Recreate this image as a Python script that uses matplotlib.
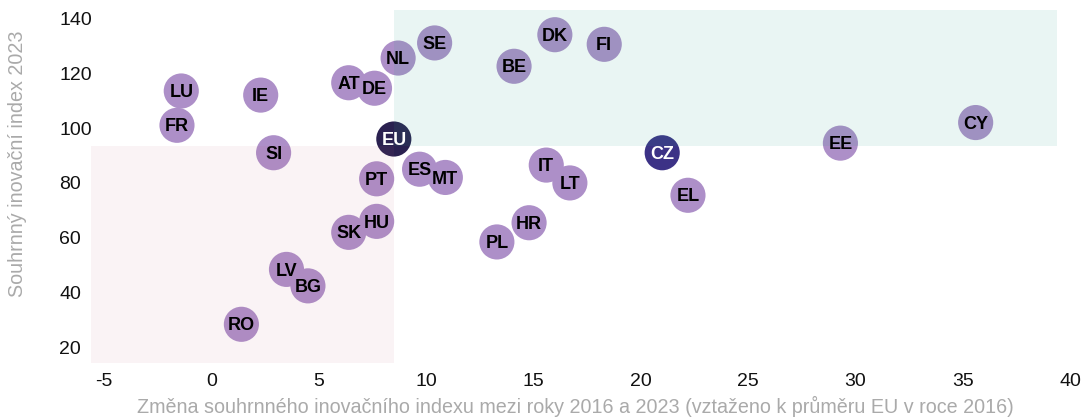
import matplotlib.pyplot as plt
from matplotlib.patches import Rectangle

plt.rcParams['font.family'] = ['Liberation Sans', 'DejaVu Sans']
plt.rcParams['axes.unicode_minus'] = False

countries = ["LU", "FR", "IE", "SI", "AT", "DE", "NL", "SE", "BE", "DK", "FI",
             "EU", "CZ", "EE", "CY", "ES", "MT", "IT", "LT", "EL", "PT", "HU",
             "SK", "HR", "PL", "LV", "BG", "RO"]
change = [-1.4, -1.6, 2.3, 2.9, 6.4, 7.6, 8.7, 10.4, 14.1, 16.0, 18.3,
          8.5, 21.0, 29.3, 35.6, 9.7, 10.9, 15.6, 16.7, 22.2, 7.7, 7.7,
          6.4, 14.8, 13.3, 3.5, 4.5, 1.4]
index_2023 = [113.5, 101.0, 112.0, 91.0, 116.5, 114.5, 125.5, 131.0, 122.5, 134.0, 130.5,
              96.0, 91.0, 94.5, 102.0, 85.0, 82.0, 86.5, 80.0, 75.5, 81.5, 66.0,
              62.0, 65.5, 58.5, 48.5, 42.5, 28.5]

# quadrant boxes (below / above EU)
low_box = (-5.6, 14.4, 8.5, 93.4)
high_box = (8.5, 93.4, 39.4, 143.0)

fig, ax = plt.subplots(figsize=(10.82, 4.17), dpi=100)
fig.subplots_adjust(left=0.0832, right=0.993, bottom=0.1295, top=0.976)

colors = []
text_colors = []
for c in countries:
    if c == "EU":
        colors.append("#2a2150")
        text_colors.append("white")
    elif c == "CZ":
        colors.append("#3c3286")
        text_colors.append("white")
    else:
        colors.append("#ad8fc8")
        text_colors.append("black")

ax.scatter(change, index_2023, s=640, c=colors, linewidths=0, zorder=2)

ax.add_patch(Rectangle((low_box[0], low_box[1]), low_box[2] - low_box[0],
                       low_box[3] - low_box[1], facecolor="#c0607f", alpha=0.07,
                       linewidth=0, zorder=3))
ax.add_patch(Rectangle((high_box[0], high_box[1]), high_box[2] - high_box[0],
                       high_box[3] - high_box[1], facecolor="#2aa58a", alpha=0.10,
                       linewidth=0, zorder=3))

for c, x, y, tc in zip(countries, change, index_2023, text_colors):
    ax.text(x, y - 0.6, c, ha="center", va="center", fontsize=13,
            fontweight="bold", color=tc, zorder=4)

ax.set_xlim(-5.65, 40.2)
ax.set_ylim(14.4, 143.0)
ax.set_xticks(range(-5, 41, 5))
ax.set_yticks(range(20, 141, 20))
ax.tick_params(length=0, labelsize=14, colors="#111111")
ax.tick_params(axis="x", pad=7)
ax.tick_params(axis="y", pad=22)
for lbl in ax.get_yticklabels():
    lbl.set_ha("left")
for s in ax.spines.values():
    s.set_visible(False)

ax.set_xlabel("Změna souhrnného inovačního indexu mezi roky 2016 a 2023 (vztaženo k průměru EU v roce 2016)",
              fontsize=14.2, color="#aaaaaa")
ax.set_ylabel("Souhrnný inovační index 2023", fontsize=14.2, color="#aaaaaa")
ax.xaxis.set_label_coords(0.493, -0.093)
ax.yaxis.set_label_coords(-0.064, 0.565)

fig.savefig("out.png")
